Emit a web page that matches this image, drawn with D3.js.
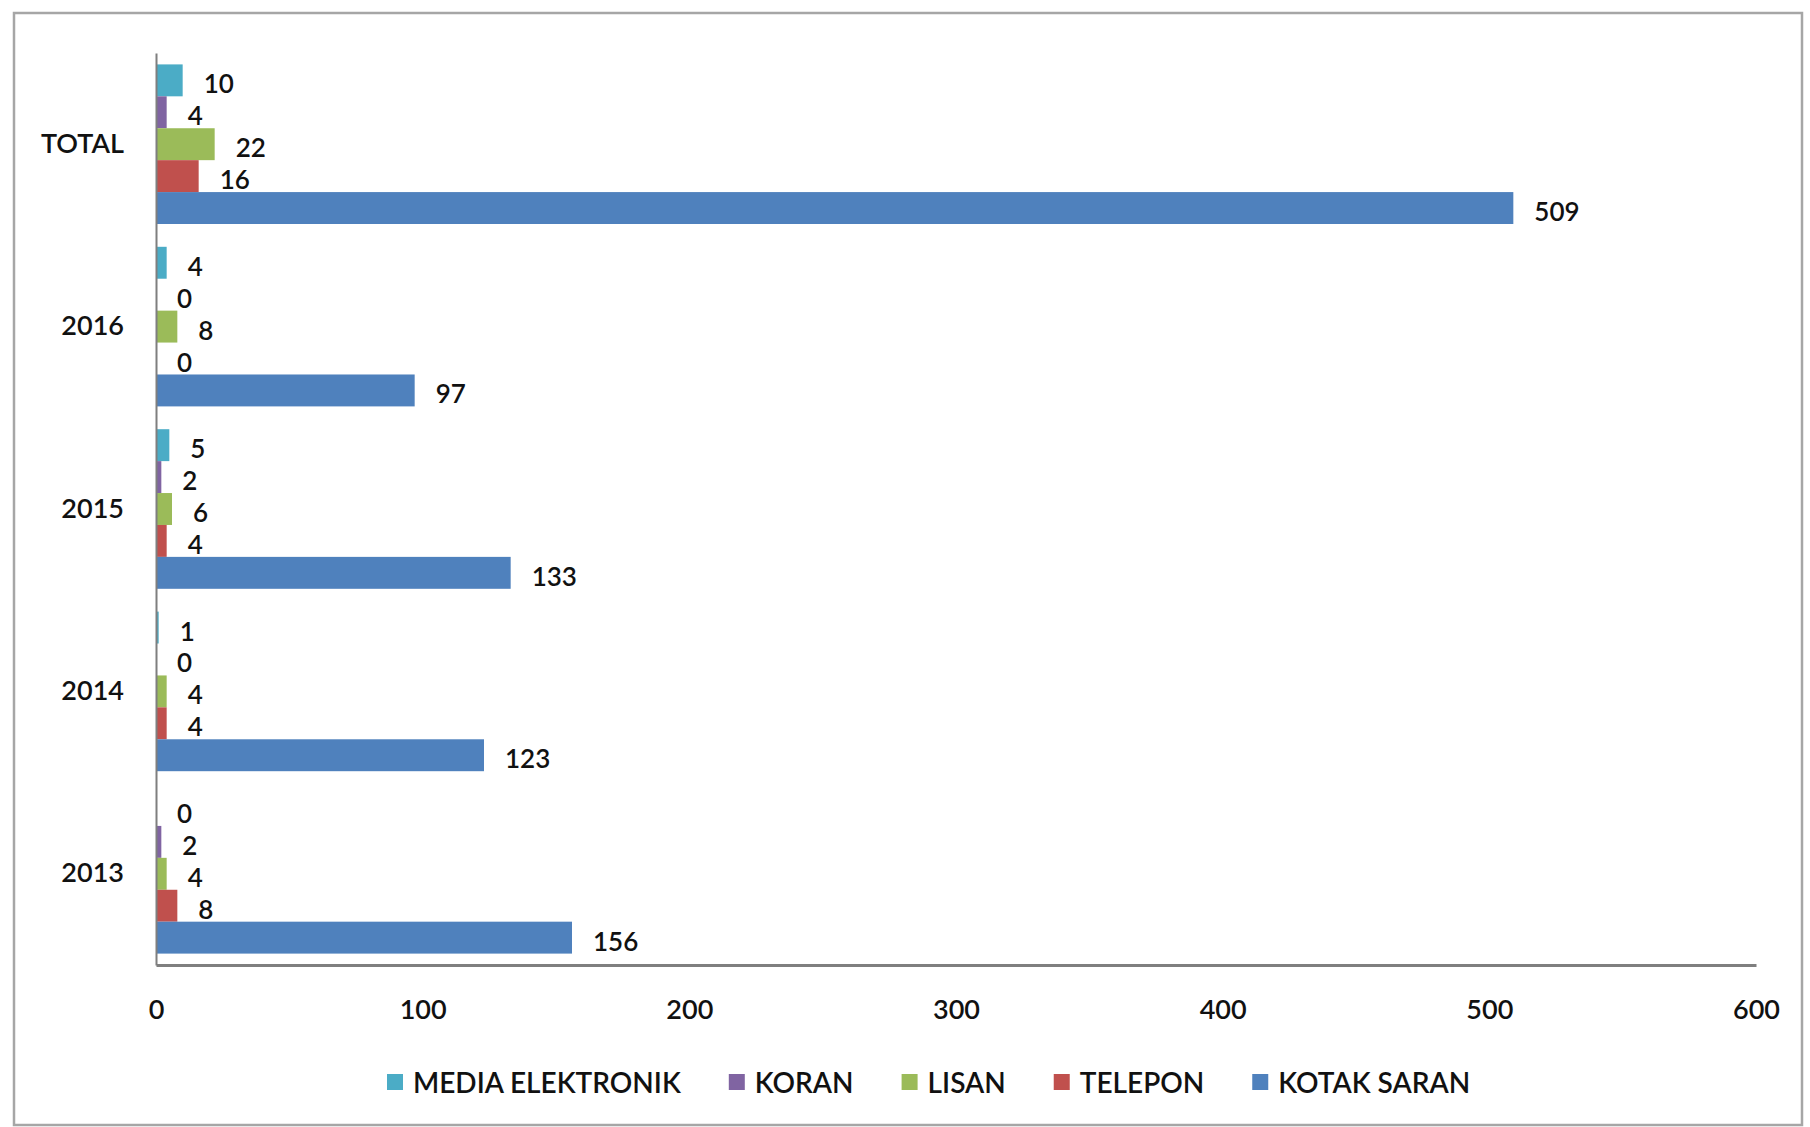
<!DOCTYPE html>
<html>
<head>
<meta charset="utf-8">
<script src="https://cdn.jsdelivr.net/npm/d3@7"></script>
<style>
  body { margin: 0; background: #fff; }
  text { font-family: Lato, "Open Sans", sans-serif; fill: #111; font-weight: 600; }
</style>
</head>
<body>
<div id="chart"></div>
<script>
// categories, top to bottom as drawn
var categories = ["TOTAL", "2016", "2015", "2014", "2013"];
// series, top to bottom inside each group
var seriesNames = ["MEDIA ELEKTRONIK", "KORAN", "LISAN", "TELEPON", "KOTAK SARAN"];
var seriesColors = ["#4BACC6", "#8064A2", "#9BBB59", "#C0504D", "#4F81BD"];
// values per series, in category order
var mediaElektronik = [10, 4, 5, 1, 0];
var koran = [4, 0, 2, 0, 2];
var lisan = [22, 8, 6, 4, 4];
var telepon = [16, 0, 4, 4, 8];
var kotakSaran = [509, 97, 133, 123, 156];
var xTicks = [0, 100, 200, 300, 400, 500, 600];

var seriesValues = [mediaElektronik, koran, lisan, telepon, kotakSaran];

var W = 1810, H = 1127;
var svg = d3.select("#chart").append("svg")
    .attr("width", W)
    .attr("height", H);

svg.append("rect").attr("width", W).attr("height", H).attr("fill", "#fff");
// outer frame
svg.append("rect")
    .attr("x", 14).attr("y", 13)
    .attr("width", 1788).attr("height", 1112)
    .attr("fill", "none")
    .attr("stroke", "#a6a6a6")
    .attr("stroke-width", 2.5);

var x = d3.scaleLinear().domain([0, 600]).range([156, 1756]);
var y = d3.scaleBand().domain(categories).range([53, 965])
    .paddingInner(0.125).paddingOuter(0.0625);
var ySub = d3.scaleBand().domain(seriesNames).range([0, y.bandwidth()]);

var rows = [];
categories.forEach(function(c, ci) {
  seriesNames.forEach(function(s, si) {
    rows.push({cat: c, name: s, value: seriesValues[si][ci], color: seriesColors[si]});
  });
});

// bars
svg.append("g").selectAll("rect")
  .data(rows)
  .join("rect")
    .attr("x", x(0))
    .attr("y", function(d) { return y(d.cat) + ySub(d.name); })
    .attr("width", function(d) { return x(d.value) - x(0); })
    .attr("height", ySub.bandwidth())
    .attr("fill", function(d) { return d.color; });

// value labels
svg.append("g").selectAll("text")
  .data(rows)
  .join("text")
    .attr("x", function(d) { return x(d.value) + 21; })
    .attr("y", function(d) { return y(d.cat) + ySub(d.name) + ySub.bandwidth() / 2 + 3; })
    .attr("dominant-baseline", "central")
    .style("font-size", "26px")
    .text(function(d) { return d.value; });

// x axis
var xAxis = svg.append("g")
    .attr("transform", "translate(0,965)")
    .call(d3.axisBottom(x).tickValues(xTicks).tickSize(0).tickSizeOuter(0).tickPadding(35));
xAxis.select(".domain").attr("stroke", "#7f7f7f").attr("stroke-width", 3);
xAxis.selectAll("text").style("font-size", "27px").attr("fill", "#111");

// y axis
var yAxis = svg.append("g")
    .attr("transform", "translate(156,0)")
    .call(d3.axisLeft(y).tickSize(0).tickSizeOuter(0).tickPadding(32));
yAxis.select(".domain").attr("stroke", "#7f7f7f").attr("stroke-width", 2);
yAxis.selectAll("text").style("font-size", "27px").attr("fill", "#111");

// legend
var legend = svg.append("g").attr("transform", "translate(387,1082)");
var lx = 0;
seriesNames.forEach(function(s, i) {
  var item = legend.append("g").attr("transform", "translate(" + lx + ",0)");
  item.append("rect")
      .attr("x", 0).attr("y", -8)
      .attr("width", 16).attr("height", 16)
      .attr("fill", seriesColors[i]);
  var t = item.append("text")
      .attr("x", 26).attr("y", 0)
      .attr("dominant-baseline", "central")
      .style("font-size", "28px")
      .text(s);
  lx += 26 + t.node().getComputedTextLength() + 48;
});
</script>
</body>
</html>
